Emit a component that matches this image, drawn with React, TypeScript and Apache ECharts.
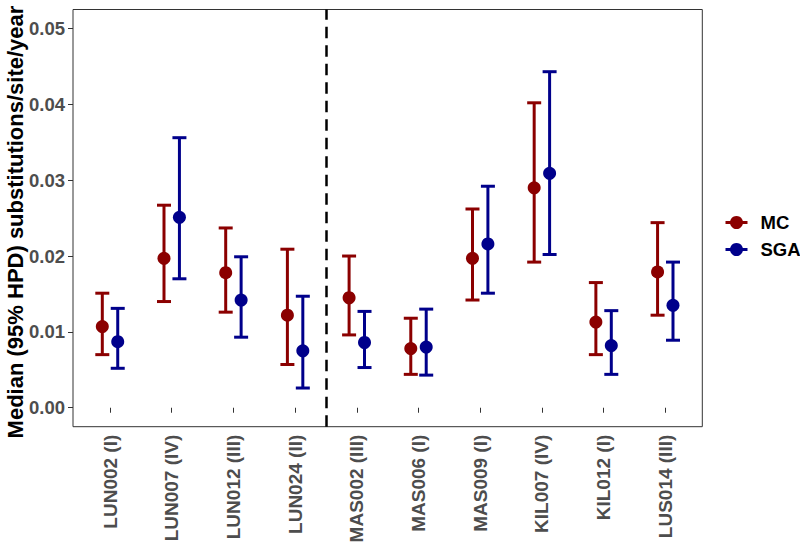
import React, { useEffect, useRef } from "react";
import * as echarts from "echarts";

const categories = [
  "LUN002 (I)", "LUN007 (IV)", "LUN012 (III)", "LUN024 (II)", "MAS002 (III)",
  "MAS006 (I)", "MAS009 (I)", "KIL007 (IV)", "KIL012 (I)", "LUS014 (III)",
];
const mcMedian = [0.0107, 0.0197, 0.0178, 0.0122, 0.0145, 0.0078, 0.0197, 0.0290, 0.0113, 0.0179];
const mcLower = [0.0070, 0.0140, 0.0126, 0.0057, 0.0096, 0.0044, 0.0142, 0.0192, 0.0070, 0.0122];
const mcUpper = [0.0151, 0.0267, 0.0237, 0.0209, 0.0200, 0.0118, 0.0262, 0.0402, 0.0165, 0.0244];
const sgaMedian = [0.0087, 0.0251, 0.0142, 0.0075, 0.0086, 0.0080, 0.0216, 0.0309, 0.0082, 0.0135];
const sgaLower = [0.0052, 0.0170, 0.0093, 0.0026, 0.0053, 0.0043, 0.0151, 0.0202, 0.0044, 0.0089];
const sgaUpper = [0.0131, 0.0356, 0.0199, 0.0147, 0.0127, 0.0130, 0.0292, 0.0443, 0.0128, 0.0192];
const yTicks = [0, 0.01, 0.02, 0.03, 0.04, 0.05];
const groups = ["MC", "SGA"];
const colors = ["#8B0000", "#00008B"];
const dividerAt = 4.5;
const yTitle = "Median (95% HPD) substitutions/site/year";

const FONT = "'Liberation Sans', Arial, Helvetica, sans-serif";

function errorBarSeries(name: string, color: string, offset: number, lo: number[], hi: number[]) {
  return {
    name,
    type: "custom",
    renderItem: (params: any, api: any) => {
      const x = api.value(0);
      const p1 = api.coord([x, api.value(1)]);
      const p2 = api.coord([x, api.value(2)]);
      const hw = 7;
      const style = { stroke: color, lineWidth: 3, fill: "none" };
      return {
        type: "group",
        children: [
          { type: "line", shape: { x1: p1[0], y1: p1[1], x2: p2[0], y2: p2[1] }, style },
          { type: "line", shape: { x1: p1[0] - hw, y1: p1[1], x2: p1[0] + hw, y2: p1[1] }, style },
          { type: "line", shape: { x1: p2[0] - hw, y1: p2[1], x2: p2[0] + hw, y2: p2[1] }, style },
        ],
      };
    },
    encode: { x: 0, y: [1, 2] },
    data: categories.map((_, i) => [i + 1 + offset, lo[i], hi[i]]),
    z: 2,
  };
}

function pointSeries(name: string, color: string, offset: number, med: number[]) {
  return {
    name,
    type: "scatter",
    symbol: "circle",
    symbolSize: 13,
    itemStyle: { color, opacity: 1 },
    data: categories.map((_, i) => [i + 1 + offset, med[i]]),
    z: 3,
  };
}

function legendItem(label: string, color: string, top: number) {
  return {
    type: "group",
    left: 723,
    top: top,
    children: [
      { type: "line", shape: { x1: 0, y1: 7, x2: 22, y2: 7 }, style: { stroke: color, lineWidth: 3 } },
      { type: "circle", shape: { cx: 11, cy: 7, r: 6.5 }, style: { fill: color } },
      {
        type: "text",
        x: 35,
        y: 7,
        style: {
          text: label,
          fill: "#000",
          font: `bold 18.5px ${FONT}`,
          textVerticalAlign: "middle",
          verticalAlign: "middle",
        },
      },
    ],
  };
}

export default function App() {
  const ref = useRef<HTMLDivElement>(null);
  useEffect(() => {
    if (!ref.current) return;
    const chart = echarts.init(ref.current, null, { renderer: "svg" });
    const offsets = [-0.125, 0.125];
    const option: any = {
      animation: false,
      backgroundColor: "#fff",
      textStyle: { fontFamily: FONT },
      grid: {
        left: 73,
        top: 9.5,
        right: 97.7,
        bottom: 118.3,
        containLabel: false,
        outerBoundsMode: "none",
        show: true,
        borderColor: "#333",
        borderWidth: 1,
        backgroundColor: "#fff",
      },
      xAxis: {
        type: "value",
        min: 0.4,
        max: 10.6,
        splitLine: { show: false },
        axisLine: { show: false },
        axisTick: {
          show: true,
          customValues: categories.map((_, i) => i + 1),
          length: 5,
          lineStyle: { color: "#333", width: 1 },
        },
        axisLabel: {
          customValues: categories.map((_, i) => i + 1),
          formatter: (v: number) => categories[Math.round(v) - 1] ?? "",
          rotate: 90,
          margin: 8,
          fontSize: 19,
          fontWeight: "bold",
          color: "#4D4D4D",
          fontFamily: FONT,
        },
      },
      yAxis: {
        type: "value",
        min: -0.0025,
        max: 0.0525,
        splitLine: { show: false },
        axisLine: { show: false },
        axisTick: {
          show: true,
          customValues: yTicks,
          length: 5,
          lineStyle: { color: "#333", width: 1 },
        },
        axisLabel: {
          customValues: yTicks,
          formatter: (v: number) => v.toFixed(2),
          margin: 8,
          fontSize: 18.5,
          fontWeight: "bold",
          color: "#4D4D4D",
          fontFamily: FONT,
        },
      },
      series: [
        errorBarSeries(groups[0], colors[0], offsets[0], mcLower, mcUpper),
        errorBarSeries(groups[1], colors[1], offsets[1], sgaLower, sgaUpper),
        pointSeries(groups[0], colors[0], offsets[0], mcMedian),
        {
          ...pointSeries(groups[1], colors[1], offsets[1], sgaMedian),
          markLine: {
            silent: true,
            symbol: "none",
            label: { show: false },
            lineStyle: { color: "#000", type: [11.5, 7], width: 2.5 },
            data: [{ xAxis: dividerAt }],
          },
        },
      ],
      graphic: [
        {
          type: "text",
          x: 15,
          y: 222,
          rotation: Math.PI / 2,
          style: {
            text: yTitle,
            fill: "#000",
            font: `bold 22px ${FONT}`,
            textAlign: "center",
            textVerticalAlign: "middle",
            align: "center",
            verticalAlign: "middle",
          },
        },
        legendItem(groups[0], colors[0], 213),
        legendItem(groups[1], colors[1], 240),
      ],
    };
    chart.setOption(option);
    return () => chart.dispose();
  }, []);
  return (
    <div
      ref={ref}
      style={{ position: "fixed", left: 0, top: 0, width: 800, height: 545, background: "#fff" }}
    />
  );
}
